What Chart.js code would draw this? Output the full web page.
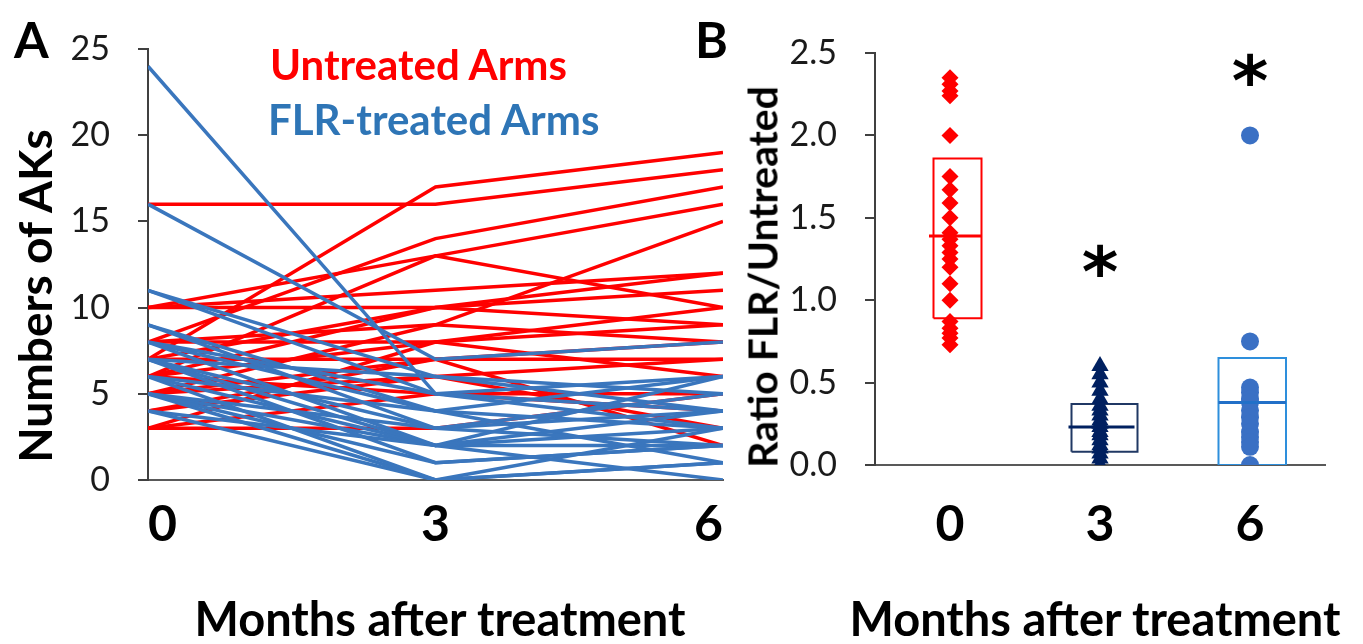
<!DOCTYPE html>
<html>
<head>
<meta charset="utf-8">
<script src="https://cdn.jsdelivr.net/npm/chart.js@4.4.1/dist/chart.umd.min.js"></script>
<style>
  html, body { margin: 0; padding: 0; background: #fff; }
  #wrap { position: relative; width: 1363px; height: 644px; overflow: hidden; font-family: Lato, "Noto Sans", sans-serif; }
  canvas { position: absolute; top: 0; }
  #chartA { left: 0; }
  #chartB { left: 740px; }
  .txt { position: absolute; font-weight: bold; white-space: nowrap; line-height: 1; color: #000; }
  .ytitle { transform: translate(-50%, -50%) rotate(-90deg); }
  .xtitle { transform: translate(-50%, -50%); }
</style>
</head>
<body>
<div id="wrap">
  <canvas id="chartA" width="740" height="644"></canvas>
  <canvas id="chartB" width="623" height="644"></canvas>
  <div class="txt" style="left:14px;top:14px;font-size:50px;">A</div>
  <div class="txt" style="left:695px;top:14px;font-size:50px;">B</div>
  <div class="txt" style="left:270px;top:43px;font-size:42px;color:#ff0000;">Untreated Arms</div>
  <div class="txt" style="left:268px;top:98px;font-size:42px;color:#2e75b6;">FLR-treated Arms</div>
  <div class="txt ytitle" style="left:35px;top:296px;font-size:46px;">Numbers of AKs</div>
  <div class="txt ytitle" style="left:762px;top:277px;font-size:41px;">Ratio FLR/Untreated</div>
  <div class="txt xtitle" style="left:440px;top:618px;font-size:47px;">Months after treatment</div>
  <div class="txt xtitle" style="left:1095px;top:618px;font-size:47px;">Months after treatment</div>
</div>
<script>
// panel A: AK counts per arm at 0, 3 and 6 months
const months = [0, 3, 6];
const yTicksA = [0, 5, 10, 15, 20, 25];
const untreatedArms = [
  [7, 17, 19], [16, 16, 18], [8, 14, 17], [10, 13, 16], [6, 13, 10],
  [8, 9, 15], [10, 11, 12], [10, 10, 12], [7, 10, 11], [6, 8, 10],
  [5, 9, 8], [8, 8, 9], [7, 7, 8], [4, 7, 7], [3, 8, 6],
  [5, 6, 7], [6, 5, 5], [3, 3, 5], [4, 6, 3], [5, 7, 2],
  [3, 5, 4], [6, 10, 9]
];
const treatedArms = [
  [24, 5, 6], [16, 7, 8], [11, 6, 5], [11, 5, 4], [9, 4, 6],
  [9, 3, 2], [8, 5, 3], [8, 2, 4], [8, 4, 1], [7, 3, 5],
  [7, 1, 2], [7, 2, 3], [6, 2, 0], [6, 4, 3], [6, 0, 1],
  [5, 3, 4], [5, 1, 2], [5, 0, 3], [4, 0, 1], [4, 2, 2],
  [7, 6, 4], [5, 2, 6]
];

// panel B: ratio FLR / untreated
const groupsB = ['0', '3', '6'];
const yTicksB = [0, 0.5, 1.0, 1.5, 2.0, 2.5];
const ratio0 = [2.35, 2.31, 2.27, 2.24, 2.0, 1.75, 1.67, 1.59, 1.5, 1.41, 1.37, 1.33,
  1.29, 1.25, 1.2, 1.1, 1.0, 0.87, 0.83, 0.8, 0.77, 0.73];
const ratio3 = [0.6, 0.55, 0.5, 0.45, 0.4, 0.36, 0.33, 0.3, 0.27, 0.25, 0.23, 0.2,
  0.18, 0.15, 0.12, 0.1, 0.07, 0.04, 0.0];
const ratio6 = [2.0, 0.75, 0.47, 0.44, 0.4, 0.38, 0.33, 0.29, 0.25, 0.2, 0.17, 0.14, 0.11, 0.0];
const boxLow = [0.89, 0.08, 0.0];
const boxHigh = [1.86, 0.37, 0.65];
const boxMedian = [1.39, 0.23, 0.38];
const starAt = [null, 1.24, 2.40];

const RED = '#ff0000';
const BLUE = '#3a76bd';
const NAVY = '#002060';
const DOT = '#3a70c4';
const tickFont = { family: 'Lato', size: 34 };
const xTickFont = { family: 'Lato', size: 50, weight: 'bold' };

// box looks, in x units around each group
const boxStyle = [
  { l: -0.11, r: 0.21, ml: -0.14, mr: 0.21, color: RED, median: RED },
  { l: -0.19, r: 0.25, ml: -0.21, mr: 0.23, color: '#203864', median: NAVY },
  { l: -0.21, r: 0.24, ml: -0.21, mr: 0.24, color: '#2e8fdc', median: '#2270c8' }
];

function armLine(vals, color) {
  return {
    data: vals.map((v, i) => ({ x: months[i], y: v })),
    borderColor: color, borderWidth: 3.5, pointRadius: 0, tension: 0, fill: false
  };
}

// first dataset is painted last, so blue goes on top
const dsA = treatedArms.map(v => armLine(v, BLUE)).concat(untreatedArms.map(v => armLine(v, RED)));

new Chart(document.getElementById('chartA'), {
  type: 'line',
  data: { datasets: dsA },
  options: {
    responsive: false,
    animation: false,
    layout: { padding: { top: 49, right: 17, bottom: 0, left: 0 } },
    plugins: { legend: { display: false }, tooltip: { enabled: false } },
    scales: {
      x: {
        type: 'linear', min: 0, max: 6,
        afterBuildTicks: s => { s.ticks = months.map(m => ({ value: m })); },
        afterFit: s => { s.height = 164; },
        grid: { drawOnChartArea: false, drawTicks: false },
        border: { display: true, color: '#595959', width: 2 },
        ticks: { align: 'inner', padding: 15, color: '#000', font: xTickFont, maxRotation: 0 }
      },
      y: {
        min: 0, max: 25,
        afterBuildTicks: s => { s.ticks = yTicksA.map(v => ({ value: v })); },
        afterFit: s => { s.width = 148; },
        grid: { drawOnChartArea: false, drawTicks: true, tickLength: 10, color: '#404040', lineWidth: 2 },
        border: { display: true, color: '#404040', width: 2 },
        ticks: { padding: 28, color: '#1a1a1a', font: tickFont }
      }
    }
  }
});

const stars = {
  id: 'stars',
  afterDatasetsDraw(chart) {
    const { ctx, scales: { x, y } } = chart;
    ctx.save();
    ctx.font = 'bold 70px "DejaVu Sans"';
    ctx.fillStyle = '#000';
    ctx.textAlign = 'center';
    ctx.textBaseline = 'alphabetic';
    const m = ctx.measureText('*');
    starAt.forEach((v, i) => {
      if (v === null) return;
      const px = x.getPixelForValue(i);
      const py = y.getPixelForValue(v);
      ctx.fillText('*', px, py + (m.actualBoundingBoxAscent - m.actualBoundingBoxDescent) / 2);
    });
    ctx.restore();
  }
};

const dsB = [];
boxMedian.forEach((med, i) => {
  const st = boxStyle[i];
  dsB.push({
    data: [{ x: i + st.ml, y: med }, { x: i + st.mr, y: med }],
    borderColor: st.median, borderWidth: 3, pointRadius: 0, showLine: true
  });
});
dsB.push({ data: ratio0.map(v => ({ x: 0, y: v })), showLine: false, pointStyle: 'rectRot', pointRadius: 8.5, backgroundColor: RED, borderWidth: 0 });
dsB.push({ data: ratio3.map(v => ({ x: 1, y: v })), showLine: false, pointStyle: 'triangle', pointRadius: 10, backgroundColor: NAVY, borderWidth: 0 });
dsB.push({ data: ratio6.map(v => ({ x: 2, y: v })), showLine: false, pointStyle: 'circle', pointRadius: 9, backgroundColor: DOT, borderWidth: 0 });
boxLow.forEach((lo, i) => {
  const st = boxStyle[i];
  const hi = boxHigh[i];
  dsB.push({
    data: [{ x: i + st.l, y: lo }, { x: i + st.l, y: hi }, { x: i + st.r, y: hi }, { x: i + st.r, y: lo }, { x: i + st.l, y: lo }],
    borderColor: st.color, borderWidth: 2, pointRadius: 0, showLine: true, tension: 0
  });
});

new Chart(document.getElementById('chartB'), {
  type: 'line',
  data: { datasets: dsB },
  options: {
    responsive: false,
    animation: false,
    layout: { padding: { top: 53, right: 38, bottom: 0, left: 0 } },
    plugins: { legend: { display: false }, tooltip: { enabled: false } },
    scales: {
      x: {
        type: 'linear', min: -0.5, max: 2.5,
        afterBuildTicks: s => { s.ticks = groupsB.map((g, i) => ({ value: i })); },
        afterFit: s => { s.height = 179; },
        grid: { drawOnChartArea: false, drawTicks: false },
        border: { display: true, color: '#595959', width: 2 },
        ticks: { padding: 30, color: '#000', font: xTickFont, maxRotation: 0, callback: v => groupsB[v] }
      },
      y: {
        min: 0, max: 2.5,
        afterBuildTicks: s => { s.ticks = yTicksB.map(v => ({ value: v })); },
        afterFit: s => { s.width = 135; },
        grid: { drawOnChartArea: false, drawTicks: true, tickLength: 10, color: '#404040', lineWidth: 2 },
        border: { display: true, color: '#404040', width: 2 },
        ticks: { padding: 28, color: '#1a1a1a', font: tickFont, callback: v => v.toFixed(1) }
      }
    }
  },
  plugins: [stars]
});
</script>
</body>
</html>
